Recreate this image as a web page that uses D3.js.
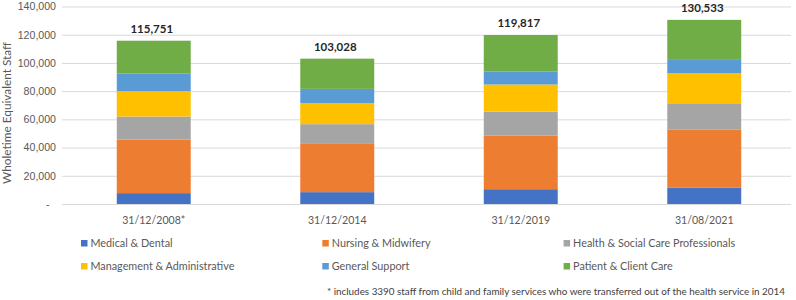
<!DOCTYPE html>
<html>
<head>
<meta charset="utf-8">
<script src="https://cdn.jsdelivr.net/npm/d3@7"></script>
<style>
  body { margin: 0; background: #fff; }
  svg { font-family: Lato, "Open Sans", sans-serif; }
  .y-axis text, .x-label { fill: #595959; font-size: 10.6px; }
  .grid line { stroke: #d9d9d9; }
  .total { font-weight: bold; font-size: 11.5px; fill: #262626; }
  .legend text { fill: #595959; font-size: 10.8px; }
  .note { fill: #404040; font-size: 9.8px; }
</style>
</head>
<body>
<div id="chart"></div>
<script>
/**
 * CONSTANTS AND GLOBALS
 * */
const width = 796,
  height = 300,
  margin = { top: 6.5, bottom: 96, left: 62, right: 0 };

// data (WTE staff)
const dates = ["31/12/2008*", "31/12/2014", "31/12/2019", "31/08/2021"];
const groups = [
  "Medical & Dental",
  "Nursing & Midwifery",
  "Health & Social Care Professionals",
  "Management & Administrative",
  "General Support",
  "Patient & Client Care"
];
const groupColors = ["#4472c4", "#ed7d31", "#a5a5a5", "#ffc000", "#5b9bd5", "#70ad47"];

const medicalDental = [7700, 8400, 10500, 11700];
const nursingMidwifery = [37900, 34200, 38100, 40900];
const healthSocialCare = [16400, 14000, 16900, 18800];
const managementAdmin = [18000, 15000, 19200, 21200];
const generalSupport = [12600, 10000, 9100, 10100];
const patientClientCare = [23151, 21428, 26017, 27833];
const totals = [115751, 103028, 119817, 130533];

const yTicks = [0, 20000, 40000, 60000, 80000, 100000, 120000, 140000];
const footnote = "* includes 3390 staff from child and family services who were transferred out of the health service in 2014";

let svg;
let xScale;
let yScale;

init();

/**
 * INITIALIZING FUNCTION
 * */
function init() {
  const seriesValues = [medicalDental, nursingMidwifery, healthSocialCare,
    managementAdmin, generalSupport, patientClientCare];

  // build rows for d3.stack
  const rows = dates.map((date, i) => {
    const row = { date: date };
    groups.forEach((g, j) => { row[g] = seriesValues[j][i]; });
    return row;
  });
  const stacked = d3.stack().keys(groups)(rows);

  // SCALES
  xScale = d3.scaleBand()
    .domain(dates)
    .range([margin.left, width - margin.right])
    .paddingInner(0.597)
    .paddingOuter(0.2985);

  yScale = d3.scaleLinear()
    .domain([0, 140000])
    .range([height - margin.bottom, margin.top]);

  svg = d3.select("#chart")
    .append("svg")
    .attr("width", width)
    .attr("height", height);

  // gridlines + y labels
  const yAxis = d3.axisLeft(yScale)
    .tickValues(yTicks)
    .tickSize(-(width - margin.left - margin.right - 5))
    .tickPadding(6)
    .tickFormat(d => d === 0 ? "-" : d3.format(",")(d));

  svg.append("g")
    .attr("class", "y-axis grid")
    .attr("transform", `translate(${margin.left},0)`)
    .call(yAxis)
    .call(g => g.select(".domain").remove())
    .call(g => g.selectAll(".tick text").filter(d => d === 0).attr("dx", "-0.6em"));

  // y title
  svg.append("text")
    .attr("class", "x-label")
    .attr("transform", "translate(6.5,113) rotate(-90)")
    .attr("text-anchor", "middle")
    .attr("dy", "0.35em")
    .style("font-size", "11.8px")
    .text("Wholetime Equivalent Staff");

  // stacked bars
  svg.append("g")
    .selectAll("g")
    .data(stacked)
    .join("g")
    .attr("fill", (d, i) => groupColors[i])
    .selectAll("rect")
    .data(d => d)
    .join("rect")
    .attr("x", d => xScale(d.data.date))
    .attr("width", xScale.bandwidth())
    .attr("y", d => yScale(d[1]))
    .attr("height", d => yScale(d[0]) - yScale(d[1]));

  // totals above bars
  svg.append("g")
    .selectAll("text")
    .data(totals)
    .join("text")
    .attr("class", "total")
    .attr("x", (d, i) => xScale(dates[i]) + xScale.bandwidth() / 2 - 2)
    .attr("y", d => yScale(d) - 8)
    .attr("text-anchor", "middle")
    .text(d => d3.format(",")(d));

  // x labels
  svg.append("g")
    .selectAll("text")
    .data(dates)
    .join("text")
    .attr("class", "x-label")
    .attr("x", d => xScale(d) + xScale.bandwidth() / 2)
    .attr("y", height - margin.bottom + 20)
    .attr("text-anchor", "middle")
    .text(d => d);

  // legend, 3 columns x 2 rows
  const legendCols = [81, 322.3, 563.6];
  const legendRows = [243.5, 266.5];
  const legend = svg.append("g")
    .attr("class", "legend")
    .selectAll("g")
    .data(groups)
    .join("g")
    .attr("transform", (d, i) => `translate(${legendCols[i % 3]},${legendRows[Math.floor(i / 3)]})`);

  legend.append("rect")
    .attr("y", -3.5)
    .attr("width", 6.5)
    .attr("height", 6.5)
    .attr("fill", (d, i) => groupColors[i]);

  legend.append("text")
    .attr("x", 9.5)
    .attr("dy", "0.35em")
    .text(d => d);

  // footnote
  svg.append("text")
    .attr("class", "note")
    .attr("x", 327)
    .attr("y", 294.5)
    .attr("textLength", 458)
    .attr("lengthAdjust", "spacingAndGlyphs")
    .text(footnote);
}
</script>
</body>
</html>
